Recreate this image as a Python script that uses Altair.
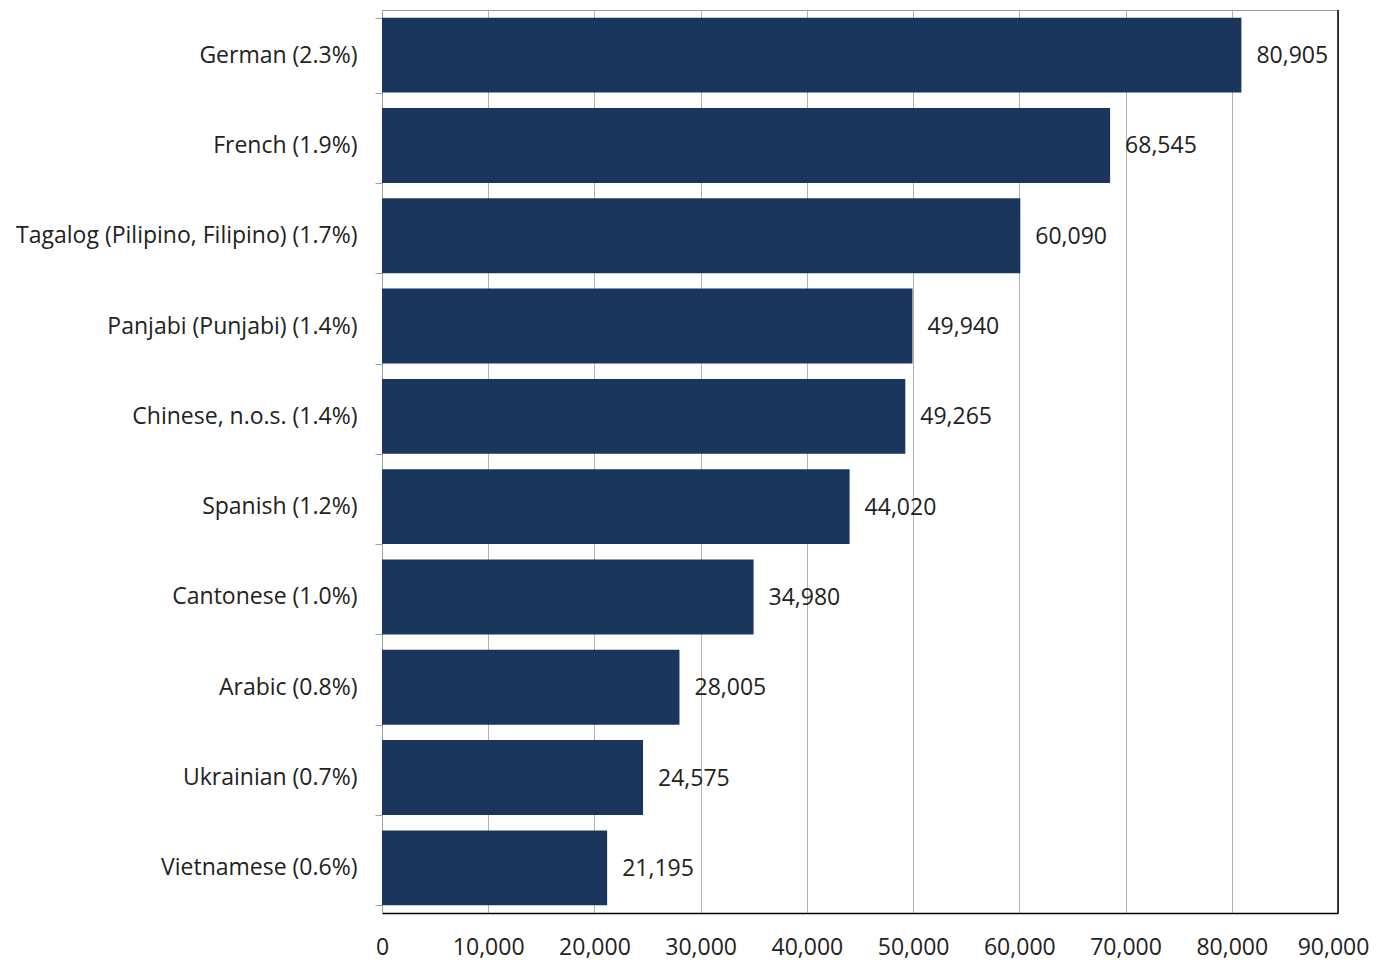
import altair as alt
import pandas as pd

languages = [
    "German (2.3%)",
    "French (1.9%)",
    "Tagalog (Pilipino, Filipino) (1.7%)",
    "Panjabi (Punjabi) (1.4%)",
    "Chinese, n.o.s. (1.4%)",
    "Spanish (1.2%)",
    "Cantonese (1.0%)",
    "Arabic (0.8%)",
    "Ukrainian (0.7%)",
    "Vietnamese (0.6%)",
]
speakers = [80905, 68545, 60090, 49940, 49265, 44020, 34980, 28005, 24575, 21195]
x_ticks = [0, 10000, 20000, 30000, 40000, 50000, 60000, 70000, 80000, 90000]

df = pd.DataFrame({"language": languages, "speakers": speakers})

FONT = "Open Sans"
FS = 23
BAR = "#1b365d"
TXT = "#222222"

y_enc = alt.Y(
    "language:N",
    sort=languages,
    title=None,
    scale=alt.Scale(paddingInner=0.17, paddingOuter=0.085),
    axis=alt.Axis(
        labelFont=FONT, labelFontSize=FS, labelColor=TXT, labelPadding=18,
        tickBand="extent", tickSize=7, tickColor="#a0a0a0", tickWidth=1,
        domainColor="#a0a0a0", domainWidth=1, grid=False, labelLimit=400,
    ),
)
x_enc = alt.X(
    "speakers:Q",
    title=None,
    scale=alt.Scale(domain=[0, 90000], nice=False),
    axis=alt.Axis(
        values=x_ticks, format=",d", labelFont=FONT, labelFontSize=FS,
        labelColor=TXT, labelPadding=23, ticks=False,
        labelOverlap=False, labelFlush=False,
        labelOffset={"condition": {"test": f"datum.value == {x_ticks[-1]}", "value": -5}, "value": 0},
        domainColor="#000000", domainWidth=1.5,
        grid=True, gridColor="#b0b0b0", gridWidth=1,
    ),
)

bars = alt.Chart(df).mark_bar(color=BAR).encode(x=x_enc, y=y_enc)
labels = alt.Chart(df).mark_text(
    align="left", baseline="middle", dx=15, dy=1, font=FONT, fontSize=FS, color=TXT
).encode(
    x=alt.X("speakers:Q"),
    y=alt.Y("language:N", sort=languages),
    text=alt.Text("speakers:Q", format=",d"),
)
right_border = alt.Chart(pd.DataFrame({"v": [x_ticks[-1]]})).mark_rule(
    color="#000000", strokeWidth=1.5
).encode(x=alt.X("v:Q"))

chart = alt.layer(bars, labels, right_border).properties(
    width=956,
    height=903,
    autosize=alt.AutoSizeParams(type="none"),
    padding={"left": 374, "top": 2, "right": 32, "bottom": 50},
).configure_view(stroke="#a0a0a0", strokeWidth=1)

chart.save("out.html", embed_options={"renderer": "svg", "actions": False})
